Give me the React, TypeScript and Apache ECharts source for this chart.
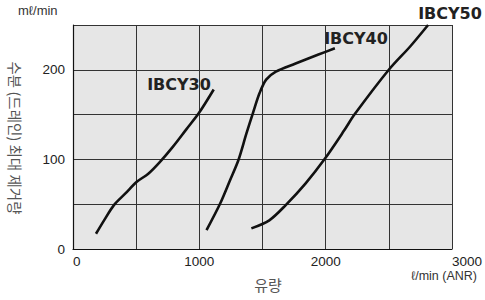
import React, { useEffect, useRef } from "react";
import * as echarts from "echarts";

const seriesNames = ["IBCY30", "IBCY40", "IBCY50"];
const ibcy30: [number, number][] = [
  [182, 17], [246, 32], [324, 49], [415, 62], [505, 75], [596, 84], [687, 97], [790, 114], [894, 133], [998, 152], [1114, 178],
];
const ibcy40: [number, number][] = [
  [1057, 21], [1166, 51], [1244, 77], [1309, 99], [1373, 129], [1425, 152], [1477, 174], [1529, 189], [1606, 198], [1762, 207], [1943, 217], [2073, 224],
];
const ibcy50: [number, number][] = [
  [1412, 23], [1554, 32], [1684, 49], [1840, 73], [1995, 101], [2150, 133], [2228, 150], [2500, 200], [2669, 226], [2811, 250],
];
const xTickLabels = [0, 1000, 2000, 3000];
const yTickLabels = [0, 100, 200];

export default function App() {
  const ref = useRef<HTMLDivElement>(null);
  useEffect(() => {
    const chart = echarts.init(ref.current!, null, { renderer: "svg" });
    const lineSeries = [ibcy30, ibcy40, ibcy50].map((d, i) => ({
      name: seriesNames[i],
      type: "line",
      data: d,
      smooth: 0.3,
      showSymbol: false,
      lineStyle: { color: "#111", width: 2.6 },
    }));
    const numFont = "Liberation Sans, Arial, sans-serif";
    chart.setOption({
      animation: false,
      backgroundColor: "#fff",
      grid: {
        left: 73, right: 26, top: 25, bottom: 51,
        show: true, backgroundColor: "#e6e6e6", borderWidth: 0,
      },
      xAxis: {
        type: "value", min: 0, max: 3000, interval: 500,
        axisLine: { show: true, lineStyle: { color: "#111", width: 1.2 } },
        axisTick: { show: false },
        splitLine: { show: true, lineStyle: { color: "#333", width: 1 } },
        axisLabel: {
          margin: 5, color: "#222", fontSize: 13.5, fontFamily: numFont,
          alignMinLabel: "left", alignMaxLabel: "left",
          formatter: (v: number) => (xTickLabels.includes(v) ? String(v) : ""),
        },
      },
      yAxis: {
        type: "value", min: 0, max: 250, interval: 50,
        axisLine: { show: true, lineStyle: { color: "#111", width: 1.2 } },
        axisTick: { show: false },
        splitLine: { show: true, lineStyle: { color: "#333", width: 1 } },
        axisLabel: {
          margin: 8, color: "#222", fontSize: 13.5, fontFamily: numFont,
          formatter: (v: number) => (yTickLabels.includes(v) ? String(v) : ""),
        },
      },
      series: lineSeries,
      graphic: [
        { type: "text", left: 18, top: 4, style: { text: "mℓ/min", fontSize: 13, fill: "#333", fontFamily: numFont } },
        { type: "text", x: 477, y: 275.5, style: { text: "ℓ/min (ANR)", fontSize: 12.5, fill: "#333", fontFamily: numFont, align: "right", verticalAlign: "middle" } },
        { type: "text", x: 268, y: 284, style: { text: "유량", fontSize: 15, fill: "#555", fontFamily: "Noto Sans CJK KR", align: "center", verticalAlign: "middle" } },
        { type: "text", x: 15, y: 138, rotation: -Math.PI / 2, style: { text: "수분 (드레인) 최대 제거량", fontSize: 14.5, fill: "#555", fontFamily: "Noto Sans CJK KR", align: "center", verticalAlign: "middle" } },
        { type: "text", x: 179, y: 84, style: { text: seriesNames[0], fontSize: 16, fontWeight: "bold", fill: "#222", fontFamily: "DejaVu Sans", align: "center", verticalAlign: "middle" } },
        { type: "text", x: 356, y: 38, style: { text: seriesNames[1], fontSize: 16, fontWeight: "bold", fill: "#222", fontFamily: "DejaVu Sans", align: "center", verticalAlign: "middle" } },
        { type: "text", x: 450, y: 13, style: { text: seriesNames[2], fontSize: 16, fontWeight: "bold", fill: "#222", fontFamily: "DejaVu Sans", align: "center", verticalAlign: "middle" } },
      ],
    });
    return () => chart.dispose();
  }, []);
  return <div ref={ref} style={{ width: 485, height: 300, position: "absolute", left: 0, top: 0 }} />;
}
